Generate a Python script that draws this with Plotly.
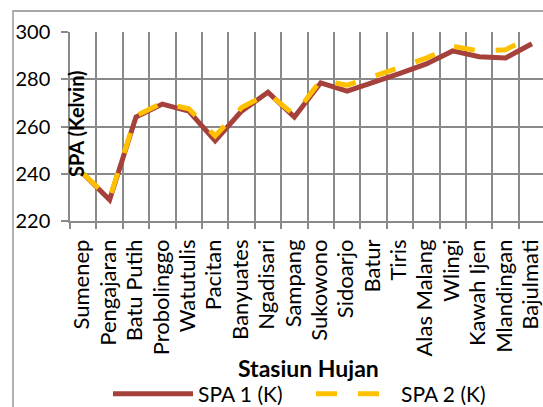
import plotly.graph_objects as go

stations = ["Sumenep", "Pengajaran", "Batu Putih", "Probolinggo", "Watutulis", "Pacitan",
            "Banyuates", "Ngadisari", "Sampang", "Sukowono", "Sidoarjo", "Batur", "Tiris",
            "Alas Malang", "Wlingi", "Kawah Ijen", "Mlandingan", "Bajulmati"]
spa1 = [240, 229, 264, 269.5, 266.5, 254, 266.5, 274.5, 264, 278.5, 275, 278.5, 282.5,
        286.5, 292, 289.5, 289, 295]
spa2 = [240, 229.5, 264.5, 270, 267.5, 256, 268, 274, 265, 279.5, 277.5, 281, 285,
        289, 294, 292, 292.5, 298]
y_ticks = [220, 240, 260, 280, 300]

W, H = 543, 407
L, R, T, B = 70, 0, 32, 186
pw, ph = W - L - R, H - T - B

def px(x):
    return (x - L) / pw

def py(y):
    return (H - B - y) / ph

GRID = "#8a8a8a"
FONT = "Lato"
FS = 22

fig = go.Figure()
fig.add_trace(go.Scatter(x=stations, y=spa1, mode="lines", name="SPA 1 (K)",
                         line=dict(color="#A5403B", width=5)))
fig.add_trace(go.Scatter(x=stations, y=spa2, mode="lines", name="SPA 2 (K)",
                         line=dict(color="#FFC000", width=5, dash="21px,21px")))

fig.update_layout(
    width=W, height=H,
    margin=dict(l=L, r=R, t=T, b=B, autoexpand=False),
    paper_bgcolor="white", plot_bgcolor="white",
    font=dict(family=FONT, size=FS, color="black"),
    showlegend=True,
    legend=dict(orientation="h", x=px(108), xanchor="left", y=py(394), yanchor="middle",
                font=dict(family=FONT, size=21, color="black"),
                itemwidth=80, entrywidth=108, entrywidthmode="pixels",
                tracegroupgap=0, bgcolor="rgba(0,0,0,0)"),
    xaxis=dict(type="category", range=[-0.5, 17.42], tickson="boundaries",
               showgrid=True, gridcolor=GRID, gridwidth=1.5,
               ticks="outside", ticklen=6, tickcolor=GRID, tickwidth=1.5,
               showline=True, linecolor=GRID, linewidth=1.5,
               tickangle=-90, tickfont=dict(family=FONT, size=FS, color="black"),
               ticklabelstandoff=8, ticklabelshift=-1,
               fixedrange=True),
    yaxis=dict(range=[220, 300], tickvals=y_ticks, ticktext=[str(v) for v in y_ticks],
               showgrid=True, gridcolor=GRID, gridwidth=1.5,
               ticks="outside", ticklen=7, tickcolor=GRID, tickwidth=1.5,
               showline=True, linecolor=GRID, linewidth=1.5,
               ticklabelstandoff=7,
               tickfont=dict(family=FONT, size=20, color="black"),
               zeroline=False, fixedrange=True),
    annotations=[
        dict(text="<b>SPA (Kelvin)</b>", x=px(76), y=py(124), xref="paper", yref="paper",
             xanchor="center", yanchor="middle",
             showarrow=False, textangle=-90, font=dict(family=FONT, size=20, color="black")),
        dict(text="<b>Stasiun Hujan</b>", x=px(308), y=py(368), xref="paper", yref="paper",
             xanchor="center", yanchor="middle",
             showarrow=False, font=dict(family=FONT, size=23, color="black")),
    ],
    shapes=[
        dict(type="rect", xref="paper", yref="paper", x0=px(13), x1=px(700),
             y0=py(700), y1=py(11), line=dict(color=GRID, width=1.3), layer="below"),
    ],
)

fig.write_html("out.html", config={"displayModeBar": False},
               post_script="document.body.style.margin='0';document.body.style.overflow='hidden';")
